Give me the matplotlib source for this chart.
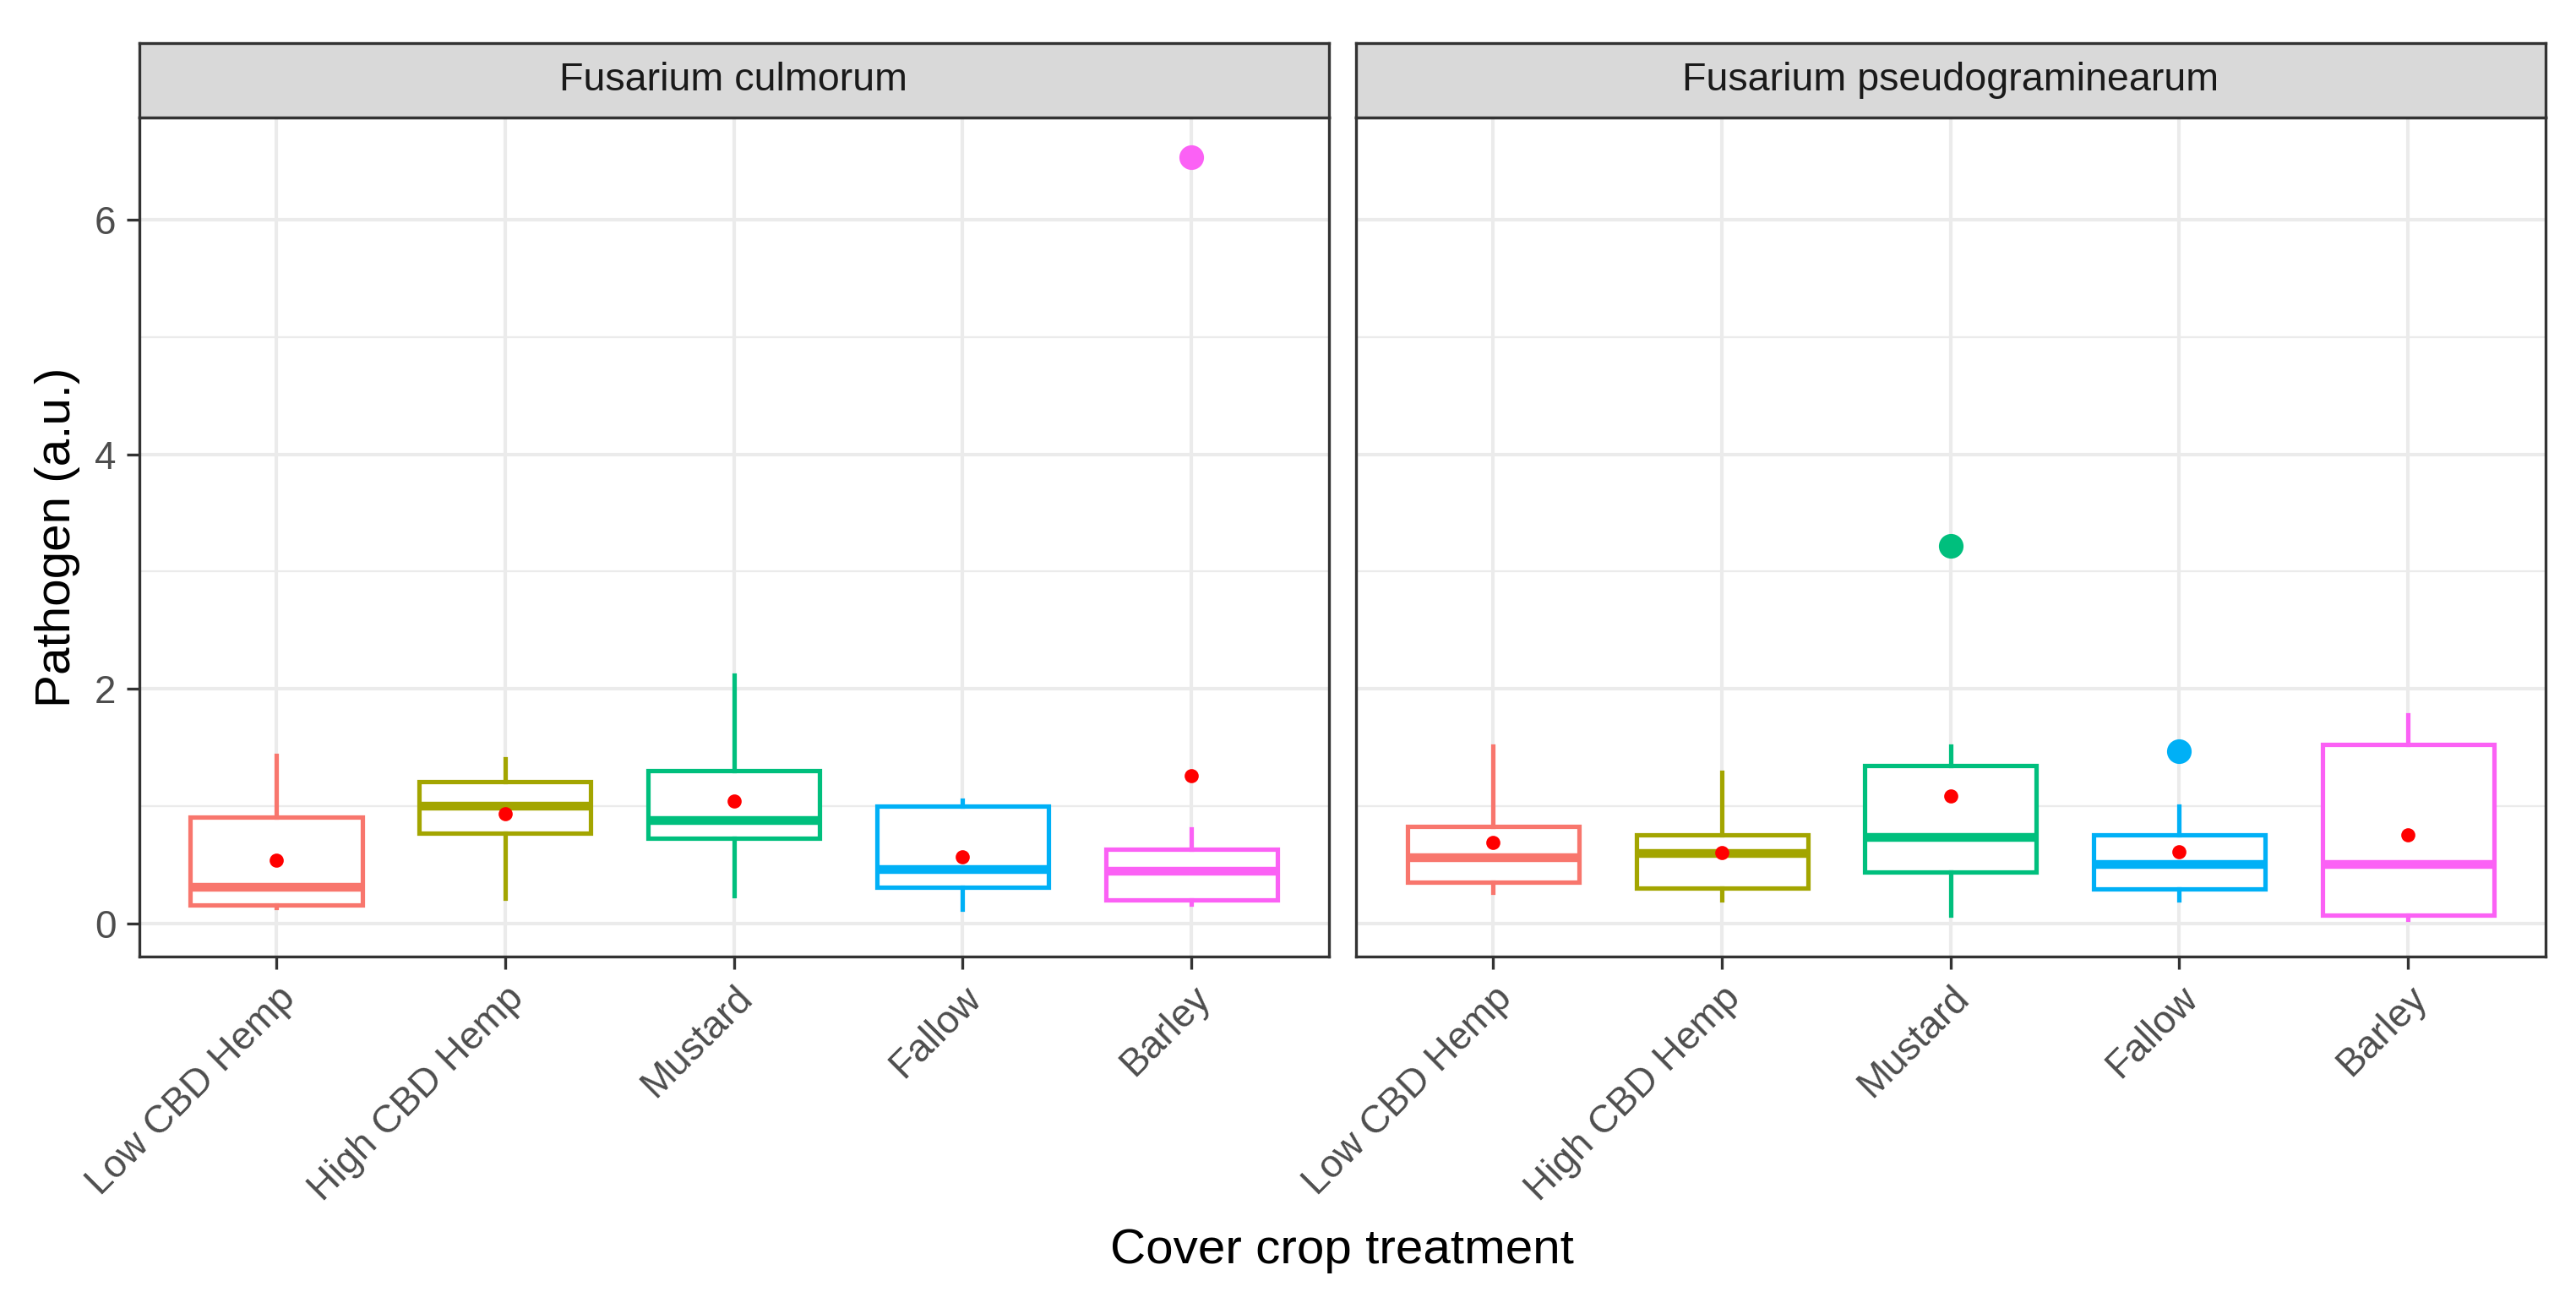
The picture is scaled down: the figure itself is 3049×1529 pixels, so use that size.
import matplotlib
matplotlib.use("Agg")
import matplotlib.pyplot as plt

plt.rcParams['font.family'] = ['Liberation Sans', 'DejaVu Sans']

treatments = ['Low CBD Hemp', 'High CBD Hemp', 'Mustard', 'Fallow', 'Barley']
colors = ['#F8766D', '#A3A500', '#00BF7D', '#00B0F6', '#FB61F5']
panels = ['Fusarium culmorum', 'Fusarium pseudograminearum']

# box statistics, one list per panel, in treatment order
culm_whislo = [0.14, 0.22, 0.24, 0.12, 0.17]
culm_q1 = [0.156, 0.773, 0.73, 0.312, 0.204]
culm_med = [0.307, 1.00, 0.876, 0.461, 0.444]
culm_q3 = [0.91, 1.21, 1.306, 1.00, 0.631]
culm_whishi = [1.433, 1.405, 2.12, 1.05, 0.81]
culm_mean = [0.54, 0.94, 1.044, 0.571, 1.26]
culm_out = [[], [], [], [], [6.53]]

pseu_whislo = [0.266, 0.206, 0.074, 0.206, 0.04]
pseu_q1 = [0.357, 0.302, 0.44, 0.297, 0.071]
pseu_med = [0.563, 0.60, 0.736, 0.503, 0.503]
pseu_q3 = [0.83, 0.755, 1.346, 0.755, 1.525]
pseu_whishi = [1.511, 1.29, 1.516, 1.003, 1.78]
pseu_mean = [0.695, 0.604, 1.09, 0.613, 0.755]
pseu_out = [[], [], [3.217], [1.47], []]

data = [
    (culm_whislo, culm_q1, culm_med, culm_q3, culm_whishi, culm_mean, culm_out),
    (pseu_whislo, pseu_q1, pseu_med, pseu_q3, pseu_whishi, pseu_mean, pseu_out),
]

W, H = 3049, 1529
fig = plt.figure(figsize=(W / 300, H / 300), dpi=300)

panel_x = [(164.5, 1572.5), (1605, 3012.5)]
top, bottom = 139, 1132
strip_top = 51

grey20 = '#333333'
for (x0, x1), title, (wlo, q1, med, q3, whi, mean, out) in zip(panel_x, panels, data):
    ax = fig.add_axes([x0 / W, 1 - bottom / H, (x1 - x0) / W, (bottom - top) / H])
    pos = list(range(1, len(treatments) + 1))
    for i in range(len(treatments)):
        c = colors[i]
        stats = [dict(whislo=wlo[i], q1=q1[i], med=med[i], q3=q3[i],
                      whishi=whi[i], fliers=out[i], mean=mean[i])]
        ax.bxp(stats, positions=[pos[i]], widths=0.75, showcaps=False,
               showmeans=True, patch_artist=True,
               boxprops=dict(facecolor='white', edgecolor=c, linewidth=1.25),
               whiskerprops=dict(color=c, linewidth=1.25),
               medianprops=dict(color=c, linewidth=2.5, solid_capstyle='butt'),
               meanprops=dict(marker='o', markerfacecolor='red', markeredgecolor='red',
                              markersize=3.0),
               flierprops=dict(marker='o', markerfacecolor=c, markeredgecolor=c,
                               markersize=6.0),
               zorder=3)
    ax.set_xlim(0.4, 5.6)
    ax.set_ylim(-0.28, 6.87)
    ax.set_yticks([0, 2, 4, 6])
    ax.set_yticks([1, 3, 5], minor=True)
    ax.set_xticks(pos)
    ax.set_xticklabels(treatments, rotation=45, ha='right', va='top',
                       rotation_mode='anchor', fontsize=12, color='#4D4D4D')
    ax.grid(True, which='major', color='#EBEBEB', linewidth=1.0, zorder=0)
    ax.grid(True, which='minor', axis='y', color='#EBEBEB', linewidth=0.55, zorder=0)
    ax.set_axisbelow(True)
    ax.tick_params(axis='both', which='major', length=3.5, width=0.8, color=grey20,
                   labelsize=11, labelcolor='#4D4D4D', pad=3)
    ax.tick_params(axis='y', which='minor', length=0)
    if x0 > 1000:
        ax.tick_params(axis='y', labelleft=False, length=0)
    for s in ax.spines.values():
        s.set_color(grey20)
        s.set_linewidth(0.8)

    sax = fig.add_axes([x0 / W, 1 - top / H, (x1 - x0) / W, (top - strip_top) / H])
    sax.set_facecolor('#D9D9D9')
    sax.set_xticks([])
    sax.set_yticks([])
    for s in sax.spines.values():
        s.set_color(grey20)
        s.set_linewidth(0.8)
    sax.text(0.5, 0.5, title, ha='center', va='center', fontsize=11.2,
             color='#1A1A1A', transform=sax.transAxes)

fig.text(68 / W, 1 - 636 / H, 'Pathogen (a.u.)', rotation=90, ha='center',
         va='center', fontsize=14)
fig.text(1588 / W, 1 - 1495 / H, 'Cover crop treatment', ha='center',
         va='baseline', fontsize=14)

fig.savefig('out.png', dpi=300)
